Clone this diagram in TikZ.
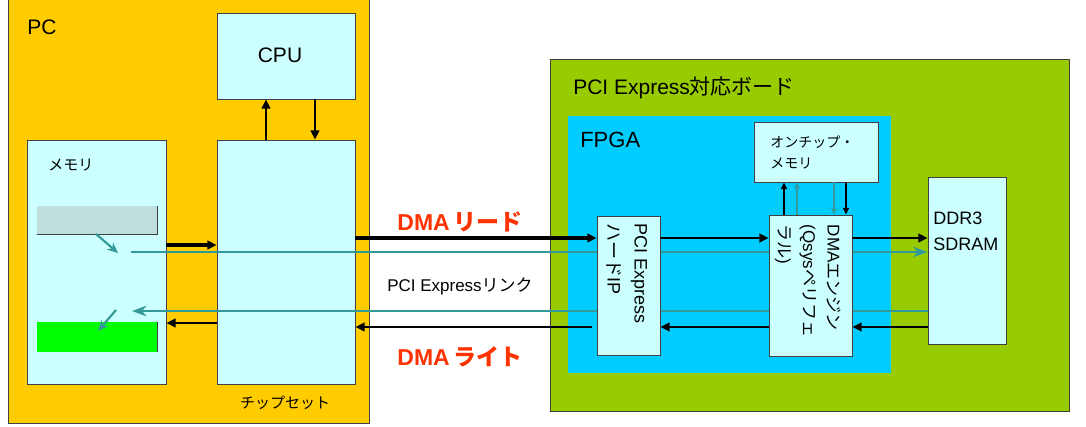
\documentclass[tikz,border=0pt]{standalone}
\usepackage{fontspec}
\setmainfont{Liberation Sans}
\newfontfamily\jpfont{Noto Sans CJK JP}
\usetikzlibrary{arrows.meta,fit}

\definecolor{pcyellow}{RGB}{255,204,0}
\definecolor{boxcyan}{RGB}{204,255,255}
\definecolor{boardgreen}{RGB}{153,204,0}
\definecolor{fpgablue}{RGB}{0,204,255}
\definecolor{linkteal}{RGB}{51,153,153}
\definecolor{dmared}{RGB}{255,51,0}
\definecolor{bufgray}{RGB}{191,222,222}
\definecolor{bufgreen}{RGB}{0,255,0}

\tikzset{
  box/.style={draw=black!75, line width=0.6pt, fill=boxcyan, inner sep=0pt},
  lbl/.style={inner sep=0pt, font=\fontsize{15.75}{18}\selectfont},
  smalllbl/.style={inner sep=0pt, font=\jpfont\fontsize{11.25}{14}\selectfont},
  dmalbl/.style={inner sep=0pt, text=dmared, font=\fontsize{17.25}{20}\selectfont\bfseries},
  bus/.style={line width=1.5pt, -{Triangle[length=7pt,width=6.5pt]}},
  thickbus/.style={bus, line width=2.7pt},
  cpubus/.style={bus, line width=2.2pt},
  thinbus/.style={line width=1.1pt, -{Triangle[length=5pt,width=4.5pt]}},
  link/.style={linkteal, line width=1.5pt, -{Stealth[length=11pt,width=8pt]}},
  buflink/.style={linkteal, line width=1.6pt, -{Stealth[length=8pt,width=7pt]}},
  thinlink/.style={linkteal, line width=1.1pt, -{Stealth[length=5pt,width=4.5pt]}},
}

\begin{document}
\begin{tikzpicture}[x=0.75pt, y=-0.75pt]
\useasboundingbox (0,0) rectangle (1086,427);
\clip (0,0) rectangle (1086,427);

% PC side
\node[box, fill=pcyellow, fit={(8,-4) (369,423)}] (pc) {};
\node[lbl, anchor=west] (pclbl) at (27,27) {PC};
\node[box, fit={(217,13) (355,99)}] (cpu) {};
\node[lbl] (cpulbl) at (280,55) {CPU};
\node[box, fit={(217,140) (355,384)}] (chip) {};
\node[smalllbl] (chiplbl) at (285,403) {チップセット};
\node[box, fit={(27,140) (166,384)}] (mem) {};
\node[smalllbl, anchor=west] (memlbl) at (48,165) {メモリ};
\node[box, draw=none, fill=bufgray, fit={(37,206) (157,234)}] (rdbuf) {};
\draw[black!75] (rdbuf.south west) -- (rdbuf.south east) -- (rdbuf.north east);
\node[box, draw=none, fill=bufgreen, fit={(37,322) (157,352)}] (wrbuf) {};
\draw[black!75] (wrbuf.south east) -- (wrbuf.north east);

% board side
\node[box, fill=boardgreen, fit={(550,59) (1069,411)}] (board) {};
\node[lbl, anchor=west] (boardlbl) at (573,88) {PCI Express{\jpfont 対応ボード}};
\node[box, draw=none, fill=fpgablue, fit={(568,116) (891,373)}] (fpga) {};
\node[lbl, anchor=west, font=\fontsize{16.5}{18}\selectfont] (fpgalbl) at (580,140) {FPGA};
\node[box, fit={(754,122) (878,182)}] (onchip) {};
\node[anchor=west, align=left, inner sep=0pt, font=\jpfont\fontsize{10.5}{15.75}\selectfont] (onchiplbl) at (770,152) {オンチップ・\\メモリ};
\node[box, fit={(928,177) (1006,344)}] (ddr) {};
\node[anchor=west, align=left, inner sep=0pt, font=\fontsize{13.5}{19.5}\selectfont] (ddrlbl) at (933,231) {DDR3\\SDRAM};

% PCI Express link (teal)
\coordinate (tsrc) at (131,252);
\coordinate (tdst) at (132,311);
\coordinate (gsrc) at (96,234);
\coordinate (gdst) at (118,253);
\coordinate (wsrc) at (116,310);
\coordinate (wdst) at (98,331);
\draw[link] (tsrc) -- (tsrc -| ddr.west);
\draw[link] (tdst -| ddr.west) -- (tdst);
\draw[buflink] (gsrc) -- (gdst);
\draw[buflink] (wsrc) -- (wdst);

% FPGA blocks
\node[box, fit={(597,216) (660,355)}] (ip) {};
\node[rotate=-90, align=left, inner sep=0pt, font=\fontsize{13.5}{20.25}\selectfont] (iplbl) at (627,274) {PCI Express\\{\jpfont ハード}IP};
\node[box, fit={(769,215) (852,356)}] (dma) {};
\node[rotate=-90, align=left, inner sep=0pt, font=\fontsize{12.75}{18.4}\selectfont] (dmalbl) at (808,281) {DMA{\jpfont エンジン}\\(Qsys{\jpfont ペリフェ}\\{\jpfont ラル})};

% data paths
\coordinate (rdy) at (0,238);
\coordinate (wry) at (0,327);
\coordinate (mcy) at (0,245);
\coordinate (cmy) at (0,323);
\coordinate (cux) at (266,0);
\coordinate (cdx) at (315,0);
\draw[cpubus] (cux |- chip.north) -- (cux |- cpu.south);
\draw[cpubus] (cdx |- cpu.south) -- (cdx |- chip.north);
\draw[thickbus] (mem.east |- mcy) -- (chip.west |- mcy);
\draw[bus] (chip.west |- cmy) -- (mem.east |- cmy);
\draw[thickbus] (chip.east |- rdy) -- (ip.west |- rdy);
\draw[bus] (ip.east |- rdy) -- (dma.west |- rdy);
\draw[bus] (dma.east |- rdy) -- (ddr.west |- rdy);
\draw[bus] (ddr.west |- wry) -- (dma.east |- wry);
\draw[bus] (dma.west |- wry) -- (ip.east |- wry);
\draw[bus, shorten <=3.75pt] (ip.west |- wry) -- (chip.east |- wry);

% on-chip memory access
\coordinate (mux) at (784,0);
\coordinate (tux) at (797,0);
\coordinate (tdx) at (834,0);
\coordinate (mdx) at (846,0);
\draw[thinbus] (mux |- dma.north) -- (mux |- onchip.south);
\draw[thinlink] (tux |- dma.north) -- (tux |- onchip.south);
\draw[thinlink] (tdx |- onchip.south) -- (tdx |- dma.north);
\draw[thinbus] (mdx |- onchip.south) -- (mdx |- dma.north);

% link labels
\node[dmalbl] (rdlbl) at (460,222) {DMA\,{\jpfont\bfseries リード}};
\node[inner sep=0pt, font=\fontsize{12.75}{15}\selectfont] (linklbl) at (460,286) {PCI Express{\jpfont リンク}};
\node[dmalbl] (wrlbl) at (460,357) {DMA\,{\jpfont\bfseries ライト}};

\end{tikzpicture}
\end{document}
